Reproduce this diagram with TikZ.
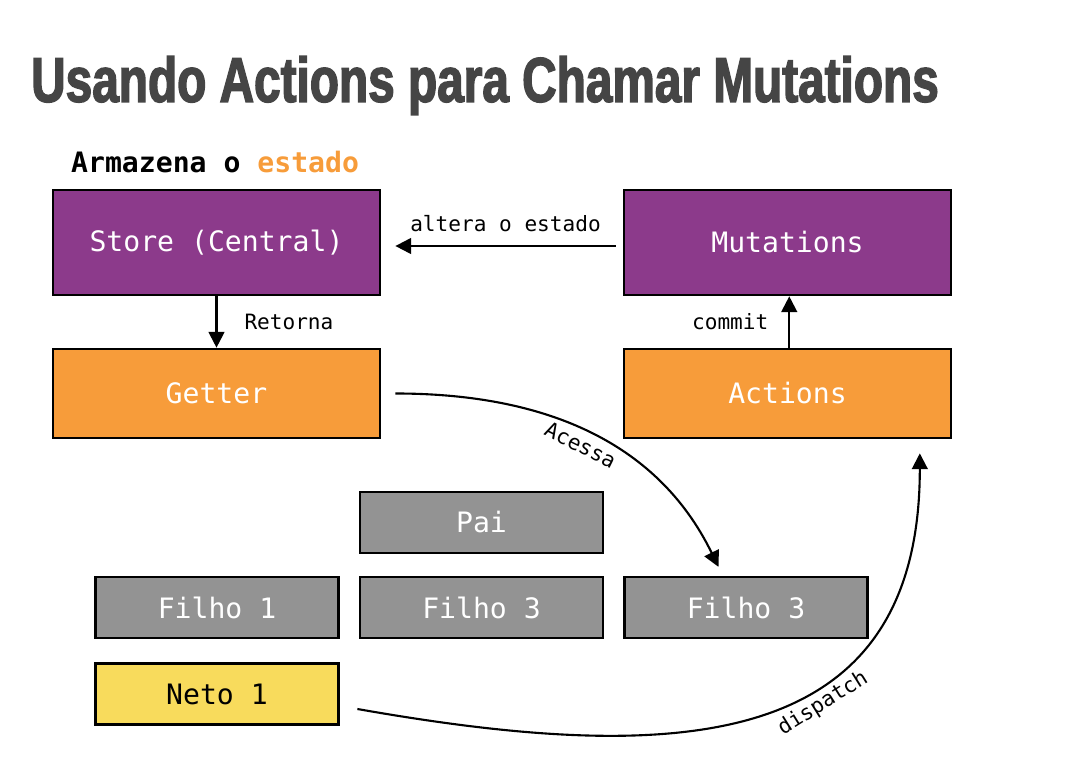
\documentclass[tikz,border=0pt]{standalone}
\usepackage{fontspec}
\setmonofont{DejaVu Sans Mono}
\newfontfamily\titlefont[FakeStretch=0.755,FakeBold=2.2]{Liberation Sans}
\usepackage{tikz}
\usetikzlibrary{positioning}
\usetikzlibrary{arrows.meta}
\usetikzlibrary{calc}

\definecolor{storepurple}{HTML}{8C3A8B}
\definecolor{actorange}{HTML}{F79C3A}
\definecolor{compgray}{HTML}{939393}
\definecolor{netoyellow}{HTML}{F8DB5C}
\definecolor{titlegray}{HTML}{454545}

\begin{document}
\begin{tikzpicture}[
    node distance=3mm and 30mm, % Global setup of box spacing
    ]
% -------------------------------------------------
\tikzset{
  base/.style={draw=black, line width=1.5pt, on grid, align=center, text=white,
    font=\ttfamily\fontsize{16}{19}\selectfont},
  bigbox/.style={base, rectangle, minimum width=6.54cm, minimum height=2.1cm},
  midbox/.style={base, rectangle, minimum width=6.54cm, minimum height=1.78cm},
  comp/.style={base, rectangle, fill=compgray, minimum width=4.86cm, minimum height=1.22cm},
  lbl/.style={font=\ttfamily\fontsize{12}{14}\selectfont, text=black},
  line/.style={draw, line width=1.2pt, -{Triangle[length=9pt,width=9pt]}}
}
\useasboundingbox (0,0) rectangle (21.5,15.18);
\node[anchor=west, text=titlegray, font=\titlefont\bfseries\fontsize{36}{40}\selectfont]
  (title) at (0.5,13.47) {Usando Actions para Chamar Mutations};
\node[anchor=west, font=\ttfamily\bfseries\fontsize{16}{19}\selectfont]
  (armaz) at (1.3,11.93) {Armazena o \textcolor{actorange}{estado}};
\node [bigbox, fill=storepurple] (store) at (4.33,10.33) {Store (Central)};
\node [bigbox, fill=storepurple, right=11.42cm of store] (mut) {Mutations};
\node [midbox, fill=actorange, below=3.02cm of store] (getter) {Getter};
\node [midbox, fill=actorange, right=11.42cm of getter] (act) {Actions};
\node [comp] (pai) at (9.63,4.73) {Pai};
\node [comp, below=1.7cm of pai] (fil3a) {Filho 3};
\node [comp, left=5.29cm of fil3a] (fil1) {Filho 1};
\node [comp, right=5.29cm of fil3a] (fil3b) {Filho 3};
\node [comp, fill=netoyellow, text=black, below=1.73cm of fil1] (neto) {Neto 1};
\path [line] ([xshift=-4pt,yshift=-2pt]mut.west) -- node[lbl, above=4pt] {altera o estado} ([xshift=8pt,yshift=-2pt]store.east);
\path [line] (store.south) -- node[lbl, right=12pt] {Retorna} (getter.north);
\path [line] ([xshift=1pt]act.north) -- node[lbl, left=8pt] {commit} ([xshift=1pt]mut.south);
\path [line] ([xshift=8pt]getter.east) to[out=0, in=116]
  node[lbl, sloped, below, pos=0.5] {Acessa} ([xshift=-0.55cm,yshift=5pt]fil3b.north);
\path [line] ([xshift=10pt,yshift=-0.3cm]neto.east) to[out=-10, in=-90, out distance=6.5cm, in distance=6cm]
  node[lbl, sloped, below, pos=0.6] {dispatch} ([xshift=-0.65cm,yshift=-8pt]act.south east);
\end{tikzpicture}
\end{document}
